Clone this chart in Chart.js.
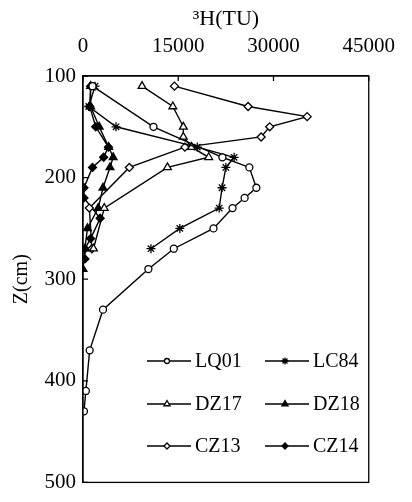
<!DOCTYPE html>
<html>
<head>
<meta charset="utf-8">
<script src="https://cdn.jsdelivr.net/npm/chart.js@4.4.1/dist/chart.umd.min.js"></script>
<style>
  html, body { margin: 0; padding: 0; background: #fff; }
</style>
</head>
<body>
<canvas id="tritiumProfile" width="412" height="502"></canvas>
<script>
// tick labels
const tickLabelsX = [0, 15000, 30000, 45000];
const tickLabelsY = [100, 200, 300, 400, 500];

// depth (cm) and 3H (TU) per profile
const lq01Depth = [110, 150, 180, 190, 210, 220, 230, 250, 270, 290, 330, 370, 410, 430];
const lq01TU    = [1500, 11100, 21950, 26200, 27300, 25450, 23550, 20550, 14300, 10300, 3150, 1050, 450, 150];

const lc84Depth = [110, 130, 150, 170, 180, 190, 210, 230, 250, 270];
const lc84TU    = [1900, 900, 5200, 18000, 23800, 22500, 21900, 21450, 15250, 10700];

const dz17Depth = [110, 130, 150, 160, 170, 180, 190, 230, 270];
const dz17TU    = [9300, 14150, 15800, 15800, 17100, 19800, 13300, 3350, 1650];

const dz18Depth = [110, 130, 150, 170, 180, 190, 210, 230, 250, 270, 290];
const dz18TU    = [1200, 1200, 2550, 4050, 4750, 4250, 3150, 2400, 700, 300, 0];

const cz13Depth = [110, 130, 140, 150, 160, 170, 190, 230, 270];
const cz13TU    = [14400, 26000, 35300, 29400, 28050, 16050, 7300, 1000, 1400];

const cz14Depth = [110, 130, 150, 170, 180, 190, 210, 220, 240, 260, 270, 280];
const cz14TU    = [1200, 1050, 2000, 4000, 3250, 1500, 150, 150, 2700, 1200, 300, 300];

const seriesNames = ['LQ01', 'LC84', 'DZ17', 'DZ18', 'CZ13', 'CZ14'];

function toPoints(depths, values) {
  return depths.map((d, i) => ({ x: values[i], y: d }));
}

function series(label, depths, values, style, filled, radius) {
  return {
    label: label,
    data: toPoints(depths, values),
    showLine: true,
    borderColor: '#000',
    borderWidth: 1.4,
    pointStyle: style,
    pointRadius: radius,
    pointHoverRadius: radius,
    pointBorderColor: '#000',
    pointBorderWidth: 1.3,
    pointBackgroundColor: filled ? '#000' : '#fff'
  };
}

const serif = 'Liberation Serif';

// box round the plot, inner tick marks, legend inside the plot
const boxAndLegend = {
  id: 'boxAndLegend',
  afterDraw(chart) {
    const ctx = chart.ctx;
    const a = chart.chartArea;
    ctx.save();
    ctx.strokeStyle = '#000';
    ctx.lineWidth = 1.3;
    ctx.strokeRect(a.left, a.top, a.right - a.left, a.bottom - a.top);

    ctx.beginPath();
    tickLabelsX.forEach(v => {
      const x = chart.scales.x.getPixelForValue(v);
      ctx.moveTo(x, a.top);
      ctx.lineTo(x, a.top + 5);
    });
    tickLabelsY.forEach(v => {
      const y = chart.scales.y.getPixelForValue(v);
      ctx.moveTo(a.left, y);
      ctx.lineTo(a.left + 5, y);
    });
    ctx.stroke();

    // legend
    const colX = [147, 265];
    const rowY = [361, 404, 446];
    ctx.font = '20px "' + serif + '"';
    ctx.textBaseline = 'middle';
    ctx.textAlign = 'left';
    chart.data.datasets.forEach((ds, i) => {
      const x0 = colX[i % 2];
      const y = rowY[Math.floor(i / 2)];
      ctx.strokeStyle = '#000';
      ctx.lineWidth = 1.4;
      ctx.beginPath();
      ctx.moveTo(x0, y);
      ctx.lineTo(x0 + 44, y);
      ctx.stroke();
      ctx.fillStyle = ds.pointBackgroundColor;
      ctx.lineWidth = 1.3;
      Chart.helpers.drawPoint(ctx, {
        pointStyle: ds.pointStyle,
        radius: ds.pointRadius - 1,
        rotation: 0,
        borderWidth: 1.3
      }, x0 + 20, y);
      ctx.fillStyle = '#000';
      ctx.fillText(ds.label, x0 + 48, y + 1);
    });
    ctx.restore();
  }
};

new Chart(document.getElementById('tritiumProfile'), {
  type: 'scatter',
  data: {
    datasets: [
      series(seriesNames[0], lq01Depth, lq01TU, 'circle', false, 3.5),
      series(seriesNames[1], lc84Depth, lc84TU, 'star', false, 4.5),
      series(seriesNames[2], dz17Depth, dz17TU, 'triangle', false, 4.5),
      series(seriesNames[3], dz18Depth, dz18TU, 'triangle', true, 4.5),
      series(seriesNames[4], cz13Depth, cz13TU, 'rectRot', false, 4),
      series(seriesNames[5], cz14Depth, cz14TU, 'rectRot', true, 4)
    ]
  },
  options: {
    responsive: false,
    animation: false,
    devicePixelRatio: 1,
    layout: { padding: { left: 0, top: 0, right: 30, bottom: 12 } },
    plugins: {
      legend: { display: false },
      tooltip: { enabled: false }
    },
    scales: {
      x: {
        type: 'linear',
        position: 'top',
        min: 0,
        max: 45000,
        afterBuildTicks: scale => { scale.ticks = tickLabelsX.map(v => ({ value: v })); },
        afterFit: scale => { scale.height = 76; },
        ticks: {
          color: '#000',
          padding: 17,
          maxRotation: 0,
          font: { family: serif, size: 21 },
          callback: v => String(v)
        },
        grid: { drawOnChartArea: false, drawTicks: false },
        border: { display: true, color: '#000', width: 1.3 },
        title: {
          display: true,
          text: '³H(TU)',
          color: '#000',
          font: { family: serif, size: 22 },
          padding: { top: 6, bottom: 0 }
        }
      },
      y: {
        type: 'linear',
        reverse: true,
        min: 100,
        max: 500,
        afterBuildTicks: scale => { scale.ticks = tickLabelsY.map(v => ({ value: v })); },
        afterFit: scale => { scale.width = 83; },
        ticks: {
          color: '#000',
          padding: 7,
          font: { family: serif, size: 21 },
          callback: v => String(v)
        },
        grid: { drawOnChartArea: false, drawTicks: false },
        border: { display: true, color: '#000', width: 1.3 },
        title: {
          display: true,
          text: 'Z(cm)',
          color: '#000',
          font: { family: serif, size: 20 },
          padding: { top: 10, bottom: 0 }
        }
      }
    }
  },
  plugins: [boxAndLegend]
});
</script>
</body>
</html>
